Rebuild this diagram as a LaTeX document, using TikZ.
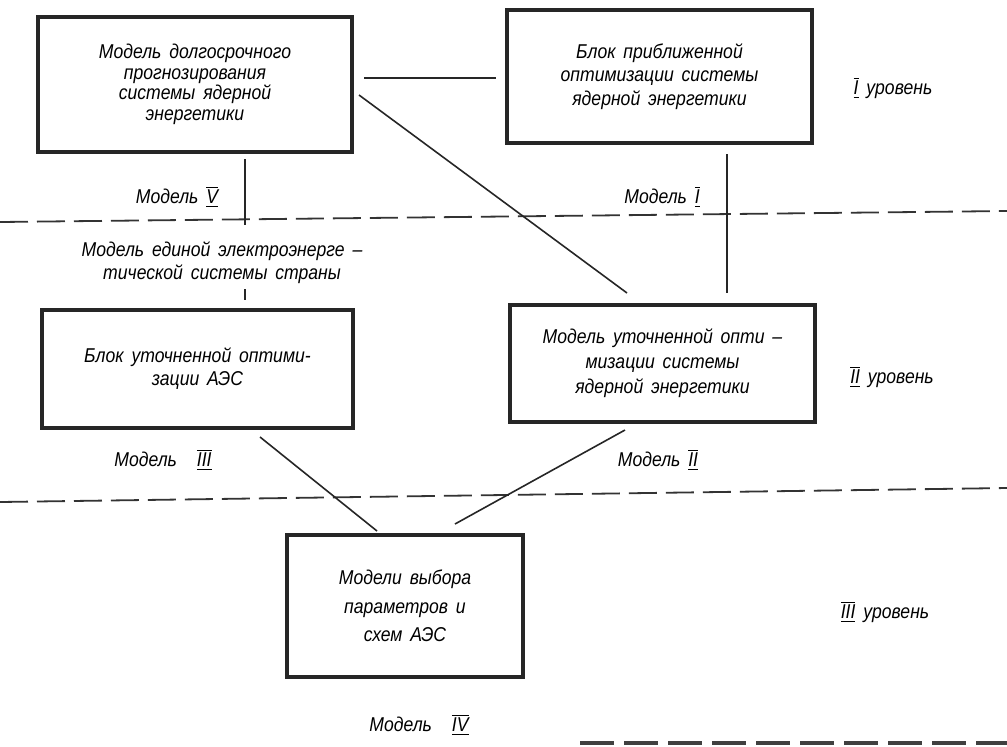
\documentclass[tikz,border=0pt]{standalone}
\usepackage{fontspec}
\setmainfont{Liberation Sans}[FakeStretch=0.88, WordSpace=1.6]
\usetikzlibrary{calc}
\newcommand{\rom}[1]{$\underline{\overline{\mbox{#1}}}$}
\tikzset{
  blok/.style={draw=black!85, line width=2pt, align=center, inner sep=0pt,
    font=\itshape\fontsize{10}{10.3}\selectfont},
  lbl/.style={align=center, inner sep=1pt, font=\itshape\fontsize{10}{11.5}\selectfont},
  svyaz/.style={line width=0.8pt, draw=black!85},
  uroven/.style={line width=0.9pt, draw=black!80, dash pattern=on 14pt off 4.5pt},
}

\begin{document}
\begin{tikzpicture}[x=0.5pt, y=-0.5pt]
\useasboundingbox (0,0) rectangle (1007,746);
\node[blok, minimum width=157pt, minimum height=67.5pt] (dolgo) at (195,84.5) {Модель долгосрочного\\прогнозирования\\системы ядерной\\энергетики};
\node[blok, minimum width=152.5pt, minimum height=66.5pt, font=\itshape\fontsize{10}{11.7}\selectfont] (priblizh) at (659.5,76.5) {Блок приближенной\\оптимизации системы\\ядерной энергетики};
\node[blok, minimum width=155.5pt, minimum height=59pt, font=\itshape\fontsize{10}{11.5}\selectfont] (aes) at (197.5,369) {Блок уточненной оптими-\\зации АЭС};
\node[blok, minimum width=152.5pt, minimum height=58.5pt, font=\itshape\fontsize{10}{12.5}\selectfont] (utoch) at (662.5,363.5) {Модель уточненной опти –\\мизации системы\\ядерной энергетики};
\node[blok, minimum width=118pt, minimum height=71pt, font=\itshape\fontsize{10}{14.3}\selectfont] (vybor) at (405,606) {Модели выбора\\параметров и\\схем АЭС};
\node[lbl] (ees) at (222,263) {Модель единой электроэнерге –\\тической системы страны};
\node[lbl] (m5) at (177,197) {Модель \rom{V}};
\node[lbl] (m1) at (662,197) {Модель \rom{I}};
\node[lbl] (m3) at (163,460) {Модель\quad\rom{III}};
\node[lbl] (m2) at (658,460) {Модель \rom{II}};
\node[lbl] (m4) at (419,725) {Модель\quad\rom{IV}};
\node[lbl] (u1) at (893,88) {\rom{I} уровень};
\node[lbl] (u2) at (892,377) {\rom{II} уровень};
\node[lbl] (u3) at (885,612) {\rom{III} уровень};
\coordinate (gr1l) at (0,222);
\coordinate (gr1r) at (1007,211);
\coordinate (gr2l) at (0,502);
\coordinate (gr2r) at (1007,488);
\draw[uroven] (gr1l) -- (gr1r);
\draw[uroven] (gr2l) -- (gr2r);
\draw[svyaz] ([shift={(10,-6.5)}]dolgo.east) -- ([shift={(-9,1.5)}]priblizh.west);
\draw[svyaz] ([shift={(5,10.5)}]dolgo.east) -- ([shift={(-35.5,-10)}]utoch.north);
\draw[svyaz] ([shift={(67.5,9)}]priblizh.south) -- ([shift={(64.5,-10)}]utoch.north);
\draw[svyaz] ([shift={(50,5)}]dolgo.south) -- ([shift={(23,-15)}]ees.north);
\draw[svyaz] ([shift={(23,3)}]ees.south) -- ([shift={(47.5,-8)}]aes.north);
\draw[svyaz] ([shift={(62.5,7)}]aes.south) -- ([shift={(-28,-2)}]vybor.north);
\draw[svyaz] ([shift={(-37.5,6)}]utoch.south) -- ([shift={(50,-9)}]vybor.north);
\draw[line width=2pt, draw=black!75, dash pattern=on 17pt off 5pt] (580,743) -- (1007,743);
\end{tikzpicture}
\end{document}
